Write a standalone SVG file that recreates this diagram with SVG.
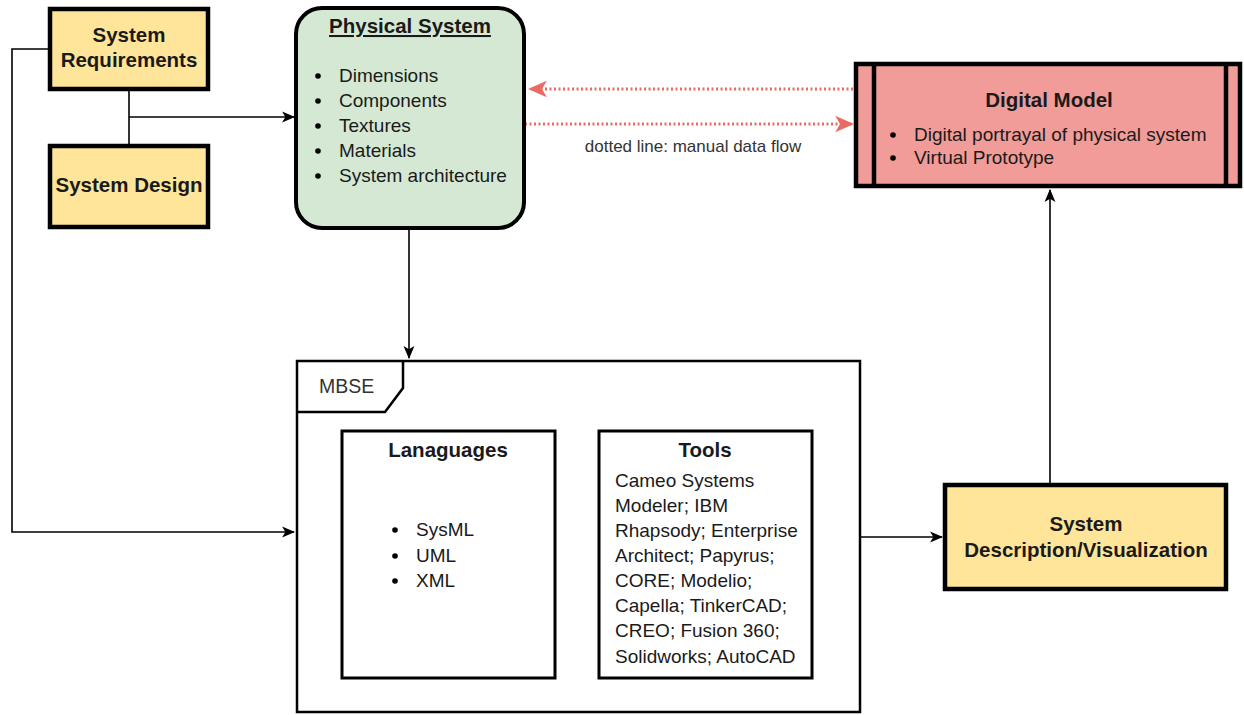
<svg xmlns="http://www.w3.org/2000/svg" width="1244" height="715" viewBox="0 0 1244 715">
<defs>
<style>
text{font-family:"Liberation Sans",Arial,sans-serif;fill:#1a1a1a}
.b{font-weight:bold;font-size:20.5px}
.r{font-size:19px}
.yel{fill:#ffe599;stroke:#000;stroke-width:4.5}
.box{fill:#fff;stroke:#000;stroke-width:3}
.ln{fill:none;stroke:#000;stroke-width:1.6}
.red{fill:none;stroke:#ea6b66;stroke-width:3;stroke-dasharray:2 2.5}
</style>
<marker id="ah" viewBox="0 0 12 12" refX="11" refY="6" markerWidth="13" markerHeight="13" markerUnits="userSpaceOnUse" orient="auto-start-reverse">
<path d="M0,1 L12,6 L0,11 L3,6 z" fill="#000"/>
</marker>
<marker id="rh" viewBox="0 0 16 16" refX="15" refY="8" markerWidth="19" markerHeight="19" markerUnits="userSpaceOnUse" orient="auto">
<path d="M0,1 L16,8 L0,15 L4,8 z" fill="#ea6b66"/>
</marker>
</defs>
<rect width="1244" height="715" fill="#fff"/>

<g id="connectors">
<path class="ln" d="M129,91 V146"/>
<path class="ln" d="M129,117 H294" marker-end="url(#ah)"/>
<path class="ln" d="M50,49 H12 V532 H294" marker-end="url(#ah)"/>
<path class="ln" d="M409,230 V358" marker-end="url(#ah)"/>
<path class="ln" d="M557,555 H597" marker-start="url(#ah)" marker-end="url(#ah)"/>
<path class="ln" d="M861,537 H942" marker-end="url(#ah)"/>
<path class="ln" d="M1050,483 V190" marker-end="url(#ah)"/>
<path class="red" d="M853,89 H529" marker-end="url(#rh)"/>
<path class="red" d="M525,124 H853" marker-end="url(#rh)"/>
<text x="693" y="152" font-size="17" text-anchor="middle" style="fill:#333">dotted line: manual data flow</text>
</g>

<g id="system-requirements">
<rect class="yel" x="50" y="9" width="158" height="80"/>
<text class="b" x="129" y="42" text-anchor="middle">System</text>
<text class="b" x="129" y="67" text-anchor="middle">Requirements</text>
</g>

<g id="system-design">
<rect class="yel" x="50" y="146" width="158" height="81"/>
<text class="b" x="129" y="192" text-anchor="middle">System Design</text>
</g>

<g id="physical-system">
<rect x="296" y="8" width="228" height="220" rx="26" ry="26" fill="#d5e8d4" stroke="#000" stroke-width="4"/>
<text class="b" x="410" y="33" text-anchor="middle" text-decoration="underline">Physical System</text>
<g fill="#000">
<circle cx="318" cy="76" r="2.8"/><circle cx="318" cy="101" r="2.8"/><circle cx="318" cy="126" r="2.8"/><circle cx="318" cy="151" r="2.8"/><circle cx="318" cy="176" r="2.8"/>
</g>
<text class="r" x="339" y="82">Dimensions</text>
<text class="r" x="339" y="107">Components</text>
<text class="r" x="339" y="132">Textures</text>
<text class="r" x="339" y="157">Materials</text>
<text class="r" x="339" y="182">System architecture</text>
</g>

<g id="digital-model">
<rect x="856" y="64" width="384" height="122" fill="#f19c99" stroke="#000" stroke-width="4.5"/>
<path d="M874,64 V186 M1226,64 V186" stroke="#000" stroke-width="4.5"/>
<text class="b" x="1049" y="107" text-anchor="middle">Digital Model</text>
<circle cx="893" cy="135" r="2.8" fill="#000"/>
<circle cx="893" cy="158" r="2.8" fill="#000"/>
<text class="r" x="914" y="141">Digital portrayal of physical system</text>
<text class="r" x="914" y="164">Virtual Prototype</text>
</g>

<g id="mbse">
<rect x="297" y="361" width="563" height="351" fill="#fff" stroke="#000" stroke-width="2.5"/>
<path d="M297,412 H385 L403,388 V361" fill="none" stroke="#000" stroke-width="2.5"/>
<text x="319" y="393" font-size="19.5" style="fill:#333">MBSE</text>
</g>

<g id="languages">
<rect class="box" x="342" y="431" width="213" height="247"/>
<text class="b" x="448" y="457" text-anchor="middle">Lanaguages</text>
<circle cx="395" cy="530" r="2.8" fill="#000"/>
<circle cx="395" cy="556" r="2.8" fill="#000"/>
<circle cx="395" cy="581" r="2.8" fill="#000"/>
<text class="r" x="416" y="536">SysML</text>
<text class="r" x="416" y="562">UML</text>
<text class="r" x="416" y="587">XML</text>
</g>

<g id="tools">
<rect class="box" x="599" y="431" width="213" height="247"/>
<text class="b" x="705" y="457" text-anchor="middle">Tools</text>
<text class="r" x="615" y="487">Cameo Systems</text>
<text class="r" x="615" y="512">Modeler; IBM</text>
<text class="r" x="615" y="537">Rhapsody; Enterprise</text>
<text class="r" x="615" y="562">Architect; Papyrus;</text>
<text class="r" x="615" y="587">CORE; Modelio;</text>
<text class="r" x="615" y="612">Capella; TinkerCAD;</text>
<text class="r" x="615" y="637">CREO; Fusion 360;</text>
<text class="r" x="615" y="663">Solidworks; AutoCAD</text>
</g>

<g id="system-description">
<rect class="yel" x="945" y="485" width="281" height="104"/>
<text class="b" x="1086" y="531" text-anchor="middle">System</text>
<text class="b" x="1086" y="557" text-anchor="middle">Description/Visualization</text>
</g>
</svg>
